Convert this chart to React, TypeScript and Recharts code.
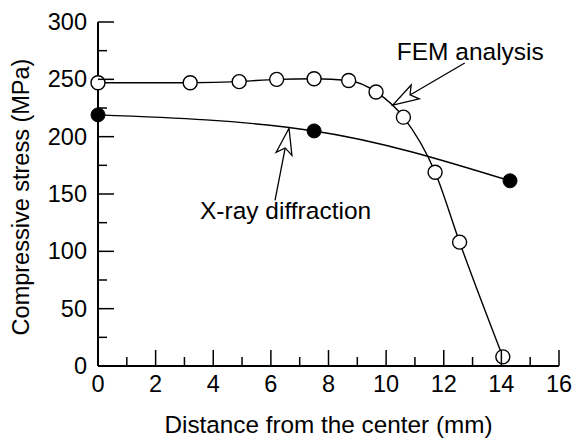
import React from 'react';
import { LineChart, Line, XAxis, YAxis, ReferenceDot, Label } from 'recharts';

// FEM analysis (open circles)
const femDistance = [0, 3.2, 4.9, 6.2, 7.5, 8.7, 9.65, 10.6, 11.7, 12.55, 14.05];
const femStress = [247, 247, 248, 250, 250.5, 249, 239, 217, 169, 108, 8];

// X-ray diffraction (filled circles)
const xrayDistance = [0, 7.5, 14.3];
const xrayStress = [219, 205, 161.5];

const xTicks = [0, 1, 2, 3, 4, 5, 6, 7, 8, 9, 10, 11, 12, 13, 14, 15, 16];
const yTicks = [0, 25, 50, 75, 100, 125, 150, 175, 200, 225, 250, 275, 300];

const femData = femDistance.map((d, i) => ({ distance: d, stress: femStress[i] }));
const xrayData = xrayDistance.map((d, i) => ({ distance: d, stress: xrayStress[i] }));

const FONT = '"Liberation Sans", Arial, Helvetica, sans-serif';

const XTick = (props: any) => {
  const { x, y, payload } = props;
  const major = payload.value % 2 === 0;
  return (
    <g>
      <line x1={x} y1={y} x2={x} y2={y - (major ? 16 : 9)} stroke="#000" strokeWidth={1.5} />
      {major && (
        <text x={x} y={y + 26} textAnchor="middle" fontSize={23.5} fill="#000" fontFamily={FONT}>
          {payload.value}
        </text>
      )}
    </g>
  );
};

const YTick = (props: any) => {
  const { x, y, payload } = props;
  const major = payload.value % 50 === 0;
  return (
    <g>
      <line x1={x} y1={y} x2={x + (major ? 16 : 9)} y2={y} stroke="#000" strokeWidth={1.5} />
      {major && (
        <text x={x - 11} y={y + 8} textAnchor="end" fontSize={23.5} fill="#000" fontFamily={FONT}>
          {payload.value}
        </text>
      )}
    </g>
  );
};

// open arrow with notched head; tip sits on the data point, tail is a pixel offset
const Arrow = (props: any) => {
  const { cx, cy, tail, text, textDx, textDy } = props;
  const [tx, ty] = tail;
  const len = Math.hypot(tx, ty);
  const ux = tx / len;
  const uy = ty / len;
  const px = -uy;
  const py = ux;
  const L = 26, W = 8, N = 20;
  const b1 = [cx + ux * L + px * W, cy + uy * L + py * W];
  const b2 = [cx + ux * L - px * W, cy + uy * L - py * W];
  const nt = [cx + ux * N, cy + uy * N];
  const pts = [[cx, cy], b1, nt, b2].map((p) => p.join(',')).join(' ');
  return (
    <g>
      <line x1={nt[0]} y1={nt[1]} x2={cx + tx} y2={cy + ty} stroke="#000" strokeWidth={1.3} />
      <polygon points={pts} fill="#fff" stroke="#000" strokeWidth={1.3} strokeLinejoin="miter" />
      <text x={cx + textDx} y={cy + textDy} fontSize={24.5} fill="#000" fontFamily={FONT}>
        {text}
      </text>
    </g>
  );
};

export default function App() {
  return (
    <div style={{ position: 'absolute', left: 0, top: 0, width: 576, height: 439, background: '#fff' }}>
      <LineChart
        width={576}
        height={439}
        margin={{ top: 22, right: 17, bottom: 0, left: 0 }}
        style={{ fontFamily: FONT }}
      >
        <XAxis
          dataKey="distance"
          type="number"
          domain={[0, 16]}
          ticks={xTicks}
          interval={0}
          height={73}
          tickSize={0}
          tickMargin={0}
          tickLine={false}
          tick={<XTick />}
          axisLine={{ stroke: '#000', strokeWidth: 2 }}
        >
          <Label
            content={(p: any) => {
              const vb = p.viewBox;
              return (
                <text x={vb.x + vb.width / 2} y={vb.y + 67} textAnchor="middle" fontSize={24.3} fill="#000" fontFamily={FONT}>
                  Distance from the center (mm)
                </text>
              );
            }}
          />
        </XAxis>
        <XAxis
          xAxisId="top"
          orientation="top"
          type="number"
          domain={[0, 16]}
          height={0}
          tick={false}
          tickLine={false}
          axisLine={{ stroke: '#000', strokeWidth: 1.5 }}
        />
        <YAxis
          type="number"
          domain={[0, 300]}
          ticks={yTicks}
          interval={0}
          width={98}
          tickSize={0}
          tickMargin={0}
          tickLine={false}
          tick={<YTick />}
          axisLine={{ stroke: '#000', strokeWidth: 2 }}
        >
          <Label
            content={(p: any) => {
              const vb = p.viewBox;
              const cx = 21;
              const cy = vb.y + vb.height / 2 + 3;
              return (
                <text
                  x={cx}
                  y={cy}
                  transform={`rotate(-90, ${cx}, ${cy})`}
                  textAnchor="middle"
                  dominantBaseline="central"
                  fontSize={23.5}
                  fill="#000"
                  fontFamily={FONT}
                >
                  Compressive stress (MPa)
                </text>
              );
            }}
          />
        </YAxis>
        <YAxis
          yAxisId="right"
          orientation="right"
          type="number"
          domain={[0, 300]}
          width={0}
          tick={false}
          tickLine={false}
          axisLine={{ stroke: '#000', strokeWidth: 1.5 }}
        />
        <Line
          data={xrayData}
          dataKey="stress"
          type="monotone"
          stroke="#000"
          strokeWidth={1.4}
          dot={{ r: 7, fill: '#000', stroke: '#000', strokeWidth: 1 }}
          isAnimationActive={false}
        />
        <Line
          data={femData}
          dataKey="stress"
          type="monotone"
          stroke="#000"
          strokeWidth={1.4}
          dot={{ r: 7, fill: '#fff', stroke: '#000', strokeWidth: 1.4 }}
          isAnimationActive={false}
        />
        <ReferenceDot
          x={10.23}
          y={227.6}
          r={0}
          ifOverflow="visible"
          shape={(p: any) => <Arrow {...p} tail={[72, -42]} text="FEM analysis" textDx={4} textDy={-45} />}
        />
        <ReferenceDot
          x={6.63}
          y={207.3}
          r={0}
          ifOverflow="visible"
          shape={(p: any) => <Arrow {...p} tail={[-14, 72]} text="X-ray diffraction" textDx={-89} textDy={91} />}
        />
      </LineChart>
    </div>
  );
}
